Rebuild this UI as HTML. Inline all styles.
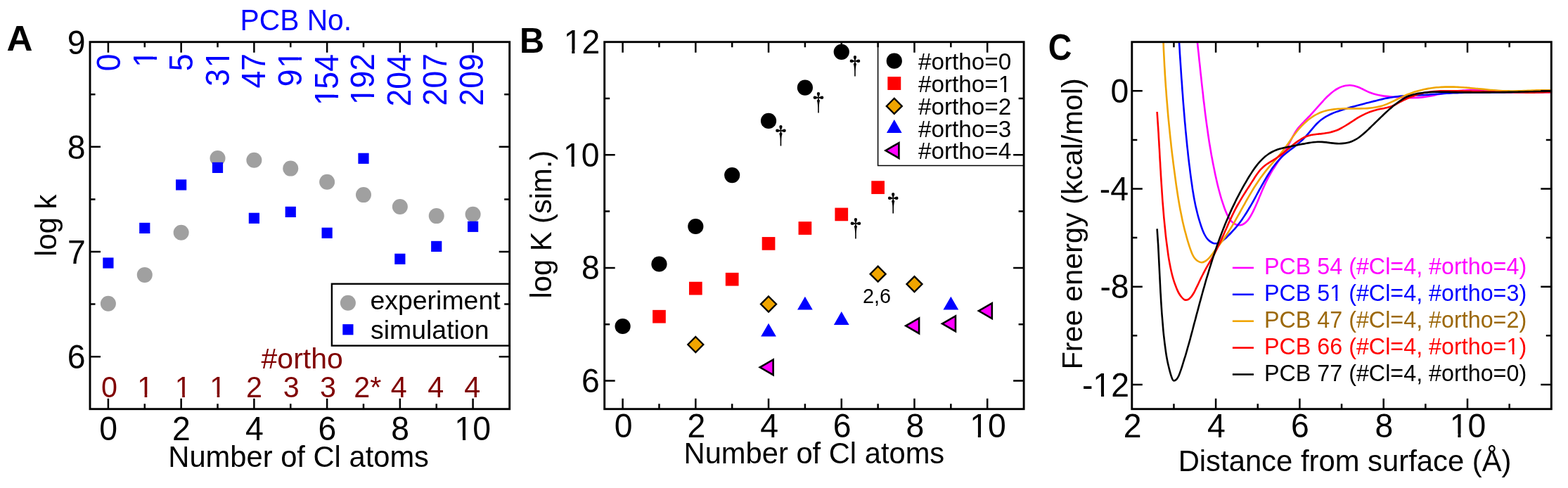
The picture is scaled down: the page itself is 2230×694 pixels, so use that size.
<!DOCTYPE html>
<html lang="en">
<head>
<meta charset="utf-8">
<title>PCB adsorption figure</title>
<style>
html,body{margin:0;padding:0;background:#fff}
body{width:2230px;height:694px;overflow:hidden}
svg{display:block;font-family:"Liberation Sans",sans-serif}
.dg{font-family:IPAGothic,"Noto Serif CJK SC","Liberation Serif",serif}
</style>
</head>
<body>
<svg width="2230" height="694" viewBox="0 0 2230 694">
<rect width="2230" height="694" fill="#fff"/>
<g id="panel-a">
<circle cx="153.9" cy="431.7" r="11" fill="#a0a0a0"/>
<circle cx="205.77" cy="390.9" r="11" fill="#a0a0a0"/>
<circle cx="257.64" cy="330.7" r="11" fill="#a0a0a0"/>
<circle cx="309.51" cy="225" r="11" fill="#a0a0a0"/>
<circle cx="361.38" cy="227.8" r="11" fill="#a0a0a0"/>
<circle cx="413.25" cy="239.6" r="11" fill="#a0a0a0"/>
<circle cx="465.12" cy="258.7" r="11" fill="#a0a0a0"/>
<circle cx="516.99" cy="277.1" r="11" fill="#a0a0a0"/>
<circle cx="568.86" cy="294" r="11" fill="#a0a0a0"/>
<circle cx="620.73" cy="307.1" r="11" fill="#a0a0a0"/>
<circle cx="672.6" cy="304.8" r="11" fill="#a0a0a0"/>
<rect x="146.3" y="366.4" width="15.2" height="15.2" fill="#0000ff"/>
<rect x="198.17" y="316.8" width="15.2" height="15.2" fill="#0000ff"/>
<rect x="250.04" y="255.3" width="15.2" height="15.2" fill="#0000ff"/>
<rect x="301.91" y="230.8" width="15.2" height="15.2" fill="#0000ff"/>
<rect x="353.78" y="302.7" width="15.2" height="15.2" fill="#0000ff"/>
<rect x="405.65" y="293.8" width="15.2" height="15.2" fill="#0000ff"/>
<rect x="457.52" y="323.7" width="15.2" height="15.2" fill="#0000ff"/>
<rect x="509.39" y="217.7" width="15.2" height="15.2" fill="#0000ff"/>
<rect x="561.26" y="360.7" width="15.2" height="15.2" fill="#0000ff"/>
<rect x="613.13" y="342.8" width="15.2" height="15.2" fill="#0000ff"/>
<rect x="665" y="314.7" width="15.2" height="15.2" fill="#0000ff"/>
<rect x="471.9" y="403.7" width="252.8" height="87.9" fill="none" stroke="#000" stroke-width="2.4"/>
<circle cx="494.9" cy="430.7" r="11" fill="#a0a0a0"/>
<rect x="487.3" y="461.1" width="15.2" height="15.2" fill="#0000ff"/>
<text transform="translate(526.41 439.9)" font-size="37.45">experiment</text>
<text transform="translate(526.97 481.9)" font-size="37.45">simulation</text>
<path d="M153.9 59.7v15M153.9 581.7v-15M257.64 59.7v15M257.64 581.7v-15M361.38 59.7v15M361.38 581.7v-15M465.12 59.7v15M465.12 581.7v-15M568.86 59.7v15M568.86 581.7v-15M672.6 59.7v15M672.6 581.7v-15M205.77 59.7v7.5M205.77 581.7v-7.5M309.51 59.7v7.5M309.51 581.7v-7.5M413.25 59.7v7.5M413.25 581.7v-7.5M516.99 59.7v7.5M516.99 581.7v-7.5M620.73 59.7v7.5M620.73 581.7v-7.5M128 507.13h15M724.7 507.13h-15M128 357.99h15M724.7 357.99h-15M128 208.84h15M724.7 208.84h-15M128 432.56h7.5M724.7 432.56h-7.5M128 283.41h7.5M724.7 283.41h-7.5M128 134.27h7.5M724.7 134.27h-7.5" stroke="#000" stroke-width="2.5" fill="none"/>
<rect x="128" y="59.7" width="596.7" height="522" fill="none" stroke="#000" stroke-width="2.9"/>
<text transform="translate(141.27 625.6) scale(0.96 1)" font-size="48.3">0</text>
<text transform="translate(245.07 625.6) scale(0.96 1)" font-size="48.3">2</text>
<text transform="translate(348.93 625.6) scale(0.96 1)" font-size="48.3">4</text>
<text transform="translate(452.38 625.6) scale(0.96 1)" font-size="48.3">6</text>
<text transform="translate(556.29 625.6) scale(0.96 1)" font-size="48.3">8</text>
<clipPath id="k1"><path clip-rule="evenodd" d="M-48.3 -57.96H102.03V24.15H-48.3ZM1.93 -5.07H12.11V1.45H1.93ZM16.38 -5.07H26.08V1.45H16.38Z"/></clipPath>
<text transform="translate(646.37 625.6) scale(0.96 1)" font-size="48.3" clip-path="url(#k1)">10</text>
<text transform="translate(95.74 524.03) scale(0.96 1)" font-size="48.3">6</text>
<text transform="translate(96.08 374.89) scale(0.96 1)" font-size="48.3">7</text>
<text transform="translate(95.74 225.74) scale(0.96 1)" font-size="48.3">8</text>
<text transform="translate(95.85 76.6) scale(0.96 1)" font-size="48.3">9</text>
<text transform="translate(239.3 663.9)" font-size="41.7">Number of Cl atoms</text>
<text transform="translate(80.1 364.82) rotate(-90)" font-size="41.8">log k</text>
<text transform="translate(9.52 72.1) scale(1.018 1)" font-size="50.3" font-weight="bold">A</text>
<text transform="translate(341.6 42.6) scale(1 1.05)" font-size="40.74" fill="#0000ff">PCB No.</text>
<text transform="translate(171.15 101.37) rotate(-90) scale(0.965 1.03)" font-size="46.2" fill="#0000ff">0</text>
<clipPath id="k2"><path clip-rule="evenodd" d="M-46.2 -55.44H71.9V23.1H-46.2ZM1.85 -4.85H11.59V1.39H1.85ZM15.67 -4.85H24.95V1.39H15.67Z"/></clipPath>
<text transform="translate(222.71 95.81) rotate(-90) scale(0.965 1.03)" font-size="46.2" clip-path="url(#k2)" fill="#0000ff">1</text>
<text transform="translate(274.27 101.26) rotate(-90) scale(0.965 1.03)" font-size="46.2" fill="#0000ff">5</text>
<clipPath id="k3"><path clip-rule="evenodd" d="M-46.2 -55.44H97.59V23.1H-46.2ZM29.39 -4.85H39.13V1.39H29.39ZM43.21 -4.85H52.49V1.39H43.21Z"/></clipPath>
<text transform="translate(325.83 122.77) rotate(-90) scale(0.965 1.03)" font-size="46.2" clip-path="url(#k3)" fill="#0000ff">3<tspan dx="1.85">1</tspan></text>
<text transform="translate(377.39 125.56) rotate(-90) scale(0.965 1.03)" font-size="46.2" fill="#0000ff">47</text>
<clipPath id="k4"><path clip-rule="evenodd" d="M-46.2 -55.44H97.59V23.1H-46.2ZM29.39 -4.85H39.13V1.39H29.39ZM43.21 -4.85H52.49V1.39H43.21Z"/></clipPath>
<text transform="translate(428.95 123.22) rotate(-90) scale(0.965 1.03)" font-size="46.2" clip-path="url(#k4)" fill="#0000ff">9<tspan dx="1.85">1</tspan></text>
<clipPath id="k5"><path clip-rule="evenodd" d="M-46.2 -55.44H123.29V23.1H-46.2ZM3.23 -4.85H12.97V1.39H3.23ZM17.06 -4.85H26.33V1.39H17.06Z"/></clipPath>
<text transform="translate(480.51 151.42) rotate(-90) scale(0.965 1.03)" font-size="46.2" clip-path="url(#k5)" fill="#0000ff"><tspan dx="1.39">1</tspan><tspan dx="-1.39">5</tspan>4</text>
<clipPath id="k6"><path clip-rule="evenodd" d="M-46.2 -55.44H123.29V23.1H-46.2ZM3.23 -4.85H12.97V1.39H3.23ZM17.06 -4.85H26.33V1.39H17.06Z"/></clipPath>
<text transform="translate(532.07 150.41) rotate(-90) scale(0.965 1.03)" font-size="46.2" clip-path="url(#k6)" fill="#0000ff"><tspan dx="1.39">1</tspan><tspan dx="-1.39">9</tspan>2</text>
<text transform="translate(583.63 151.42) rotate(-90) scale(0.965 1.03)" font-size="46.2" fill="#0000ff">204</text>
<text transform="translate(635.19 150.41) rotate(-90) scale(0.965 1.03)" font-size="46.2" fill="#0000ff">207</text>
<text transform="translate(686.75 150.64) rotate(-90) scale(0.965 1.03)" font-size="46.2" fill="#0000ff">209</text>
<text transform="translate(371.6 523.9)" font-size="40.95" fill="#800000">#ortho</text>
<text transform="translate(143.94 565.2) scale(0.965 1)" font-size="42.8" fill="#800000">0</text>
<clipPath id="k7"><path clip-rule="evenodd" d="M-42.8 -51.36H66.6V21.4H-42.8ZM1.71 -4.49H10.73V1.28H1.71ZM14.52 -4.49H23.11V1.28H14.52Z"/></clipPath>
<text transform="translate(195.25 565.2) scale(0.965 1)" font-size="42.8" clip-path="url(#k7)" fill="#800000">1</text>
<clipPath id="k8"><path clip-rule="evenodd" d="M-42.8 -51.36H66.6V21.4H-42.8ZM1.71 -4.49H10.73V1.28H1.71ZM14.52 -4.49H23.11V1.28H14.52Z"/></clipPath>
<text transform="translate(248.85 565.2) scale(0.965 1)" font-size="42.8" clip-path="url(#k8)" fill="#800000">1</text>
<clipPath id="k9"><path clip-rule="evenodd" d="M-42.8 -51.36H66.6V21.4H-42.8ZM1.71 -4.49H10.73V1.28H1.71ZM14.52 -4.49H23.11V1.28H14.52Z"/></clipPath>
<text transform="translate(298.3 565.2) scale(0.965 1)" font-size="42.8" clip-path="url(#k9)" fill="#800000">1</text>
<text transform="translate(350.09 565.2) scale(0.965 1)" font-size="42.8" fill="#800000">2</text>
<text transform="translate(402.74 565.2) scale(0.965 1)" font-size="42.8" fill="#800000">3</text>
<text transform="translate(455.04 565.2) scale(0.965 1)" font-size="42.8" fill="#800000">3</text>
<text transform="translate(503.33 565.2) scale(0.965 1)" font-size="42.8" fill="#800000">2*</text>
<text transform="translate(555.74 565.2) scale(0.965 1)" font-size="42.8" fill="#800000">4</text>
<text transform="translate(608.34 565.2) scale(0.965 1)" font-size="42.8" fill="#800000">4</text>
<text transform="translate(660.34 565.2) scale(0.965 1)" font-size="42.8" fill="#800000">4</text>
</g>
<g id="panel-b">
<circle cx="885.6" cy="464" r="11.1" fill="#000"/>
<circle cx="937.46" cy="375.5" r="11.1" fill="#000"/>
<circle cx="989.32" cy="322" r="11.1" fill="#000"/>
<circle cx="1041.18" cy="249.1" r="11.1" fill="#000"/>
<circle cx="1093.04" cy="171.9" r="11.1" fill="#000"/>
<circle cx="1144.9" cy="124.6" r="11.1" fill="#000"/>
<circle cx="1196.76" cy="73.8" r="11.1" fill="#000"/>
<rect x="928.11" y="440.85" width="18.7" height="18.7" fill="#ff0000"/>
<rect x="979.97" y="400.75" width="18.7" height="18.7" fill="#ff0000"/>
<rect x="1031.83" y="387.85" width="18.7" height="18.7" fill="#ff0000"/>
<rect x="1083.69" y="337.05" width="18.7" height="18.7" fill="#ff0000"/>
<rect x="1135.55" y="315.15" width="18.7" height="18.7" fill="#ff0000"/>
<rect x="1187.41" y="295.55" width="18.7" height="18.7" fill="#ff0000"/>
<rect x="1239.27" y="257.25" width="18.7" height="18.7" fill="#ff0000"/>
<path d="M989.32 479L1000.32 490L989.32 501L978.32 490Z" fill="#f0a500" stroke="#000" stroke-width="2.3"/>
<path d="M1093.04 421.5L1104.04 432.5L1093.04 443.5L1082.04 432.5Z" fill="#f0a500" stroke="#000" stroke-width="2.3"/>
<path d="M1248.62 378.66L1259.62 389.66L1248.62 400.66L1237.62 389.66Z" fill="#f0a500" stroke="#000" stroke-width="2.3"/>
<path d="M1300.48 393.1L1311.48 404.1L1300.48 415.1L1289.48 404.1Z" fill="#f0a500" stroke="#000" stroke-width="2.3"/>
<path d="M1093.04 459.7L1103.91 478.52L1082.17 478.52Z" fill="#0000ff"/>
<path d="M1144.9 421.8L1155.77 440.62L1134.03 440.62Z" fill="#0000ff"/>
<path d="M1196.76 443.1L1207.63 461.93L1185.89 461.93Z" fill="#0000ff"/>
<path d="M1352.34 421.8L1363.21 440.62L1341.47 440.62Z" fill="#0000ff"/>
<path d="M1080.74 522.3L1099.64 511.39L1099.64 533.21Z" fill="#ff00ff" stroke="#000" stroke-width="2.6" stroke-miterlimit="10"/>
<path d="M1288.18 463.3L1307.08 452.39L1307.08 474.21Z" fill="#ff00ff" stroke="#000" stroke-width="2.6" stroke-miterlimit="10"/>
<path d="M1340.04 460.3L1358.94 449.39L1358.94 471.21Z" fill="#ff00ff" stroke="#000" stroke-width="2.6" stroke-miterlimit="10"/>
<path d="M1391.9 442.1L1410.8 431.19L1410.8 453.01Z" fill="#ff00ff" stroke="#000" stroke-width="2.6" stroke-miterlimit="10"/>
<text class="dg" transform="translate(1110.5 205.2) scale(0.95 1)" font-size="33.6" text-anchor="middle">†</text>
<text class="dg" transform="translate(1163.84 158.16) scale(0.95 1)" font-size="33.6" text-anchor="middle">†</text>
<text class="dg" transform="translate(1216.06 105.9) scale(0.95 1)" font-size="33.6" text-anchor="middle">†</text>
<text class="dg" transform="translate(1216.85 337) scale(0.95 1)" font-size="33.6" text-anchor="middle">†</text>
<text class="dg" transform="translate(1270.1 301) scale(0.95 1)" font-size="33.6" text-anchor="middle">†</text>
<text transform="translate(1227.06 430.8)" font-size="28.8">2,6</text>
<path d="M1248.6 59.7V235.4H1456.1" fill="none" stroke="#000" stroke-width="1.5"/>
<circle cx="1271.8" cy="86.7" r="11.1" fill="#000"/>
<rect x="1262.35" y="109.1" width="18.9" height="18.9" fill="#ff0000"/>
<path d="M1271.8 139.9L1282.8 150.9L1271.8 161.9L1260.8 150.9Z" fill="#f0a500" stroke="#000" stroke-width="2.3"/>
<path d="M1271.8 170.05L1282.67 188.88L1260.93 188.88Z" fill="#0000ff"/>
<path d="M1259.5 214.05L1278.4 203.14L1278.4 224.96Z" fill="#ff00ff" stroke="#000" stroke-width="2.6" stroke-miterlimit="10"/>
<text transform="translate(1305.93 99.2)" font-size="33.3">#ortho=0</text>
<clipPath id="k10"><path clip-rule="evenodd" d="M-33.3 -39.96H165.69V16.65H-33.3ZM115.2 -3.5H122.22V1H115.2ZM125.17 -3.5H131.85V1H125.17Z"/></clipPath>
<text transform="translate(1305.93 131)" font-size="33.3" clip-path="url(#k10)">#ortho=1</text>
<text transform="translate(1305.93 162.8)" font-size="33.3">#ortho=2</text>
<text transform="translate(1305.93 194.6)" font-size="33.3">#ortho=3</text>
<text transform="translate(1305.93 226.4)" font-size="33.3">#ortho=4</text>
<path d="M885.6 59.7v15M885.6 581.7v-15M989.32 59.7v15M989.32 581.7v-15M1093.04 59.7v15M1093.04 581.7v-15M1196.76 59.7v15M1196.76 581.7v-15M1300.48 59.7v15M1300.48 581.7v-15M1404.2 59.7v15M1404.2 581.7v-15M937.46 59.7v7.5M937.46 581.7v-7.5M1041.18 59.7v7.5M1041.18 581.7v-7.5M1144.9 59.7v7.5M1144.9 581.7v-7.5M1248.62 59.7v7.5M1248.62 581.7v-7.5M1352.34 59.7v7.5M1352.34 581.7v-7.5M859.7 541.55h15M1456.1 541.55h-15M859.7 380.93h15M1456.1 380.93h-15M859.7 220.32h15M1456.1 220.32h-15M859.7 461.24h7.5M1456.1 461.24h-7.5M859.7 300.62h7.5M1456.1 300.62h-7.5M859.7 140.01h7.5M1456.1 140.01h-7.5" stroke="#000" stroke-width="2.5" fill="none"/>
<rect x="859.7" y="59.7" width="596.4" height="522" fill="none" stroke="#000" stroke-width="2.9"/>
<text transform="translate(873.67 621.9) scale(0.96 1)" font-size="48.3">0</text>
<text transform="translate(977.45 621.9) scale(0.96 1)" font-size="48.3">2</text>
<text transform="translate(1081.29 621.9) scale(0.96 1)" font-size="48.3">4</text>
<text transform="translate(1184.72 621.9) scale(0.96 1)" font-size="48.3">6</text>
<text transform="translate(1288.61 621.9) scale(0.96 1)" font-size="48.3">8</text>
<clipPath id="k11"><path clip-rule="evenodd" d="M-48.3 -57.96H102.03V24.15H-48.3ZM1.93 -5.07H12.11V1.45H1.93ZM16.38 -5.07H26.08V1.45H16.38Z"/></clipPath>
<text transform="translate(1379.2 621.9) scale(0.96 1)" font-size="48.3" clip-path="url(#k11)">10</text>
<text transform="translate(827.04 557.75) scale(0.96 1)" font-size="48.3">6</text>
<text transform="translate(827.04 397.13) scale(0.96 1)" font-size="48.3">8</text>
<clipPath id="k12"><path clip-rule="evenodd" d="M-48.3 -57.96H102.03V24.15H-48.3ZM1.93 -5.07H12.11V1.45H1.93ZM16.38 -5.07H26.08V1.45H16.38Z"/></clipPath>
<text transform="translate(801.07 236.52) scale(0.96 1)" font-size="48.3" clip-path="url(#k12)">10</text>
<clipPath id="k13"><path clip-rule="evenodd" d="M-48.3 -57.96H102.03V24.15H-48.3ZM1.93 -5.07H12.11V1.45H1.93ZM16.38 -5.07H26.08V1.45H16.38Z"/></clipPath>
<text transform="translate(801.65 75.9) scale(0.96 1)" font-size="48.3" clip-path="url(#k13)">12</text>
<text transform="translate(972.55 659.3)" font-size="41.7">Number of Cl atoms</text>
<text transform="translate(784.1 424.51) rotate(-90)" font-size="41.68">log K (sim.)</text>
<text transform="translate(739.11 75.4) scale(0.968 1)" font-size="50.3" font-weight="bold">B</text>
</g>
<g id="panel-c">
<clipPath id="cc"><rect x="1609.8" y="59.7" width="596.5" height="522"/></clipPath>
<g clip-path="url(#cc)" fill="none" stroke-width="2.6" stroke-linejoin="round">
<path d="M1701.2 45C1701.32 45.98 1701.68 48.93 1701.9 50.9C1702.12 52.87 1702.28 54.83 1702.5 56.8C1702.72 58.77 1702.98 60.72 1703.2 62.7C1703.42 64.68 1703.58 66.72 1703.8 68.7C1704.02 70.68 1704.28 72.62 1704.5 74.6C1704.72 76.58 1704.9 78.6 1705.1 80.6C1705.3 82.6 1705.48 84.6 1705.7 86.6C1705.92 88.6 1706.18 90.6 1706.4 92.6C1706.62 94.6 1706.8 96.6 1707 98.6C1707.2 100.6 1707.38 102.58 1707.6 104.6C1707.82 106.62 1708.08 108.68 1708.3 110.7C1708.52 112.72 1708.68 114.68 1708.9 116.7C1709.12 118.72 1709.37 120.77 1709.6 122.8C1709.83 124.83 1710.07 126.88 1710.3 128.9C1710.53 130.92 1710.78 132.88 1711 134.9C1711.22 136.92 1711.37 138.97 1711.6 141C1711.83 143.03 1712.15 145.08 1712.4 147.1C1712.65 149.12 1712.87 151.08 1713.1 153.1C1713.33 155.12 1713.55 157.17 1713.8 159.2C1714.05 161.23 1714.33 163.28 1714.6 165.3C1714.87 167.32 1715.13 169.28 1715.4 171.3C1715.67 173.32 1715.92 175.38 1716.2 177.4C1716.48 179.42 1716.82 181.4 1717.1 183.4C1717.38 185.4 1717.62 187.38 1717.9 189.4C1718.18 191.42 1718.5 193.48 1718.8 195.5C1719.1 197.52 1719.38 199.5 1719.7 201.5C1720.02 203.5 1720.37 205.52 1720.7 207.5C1721.03 209.48 1721.37 211.42 1721.7 213.4C1722.03 215.38 1722.35 217.42 1722.7 219.4C1723.05 221.38 1723.43 223.32 1723.8 225.3C1724.17 227.28 1724.52 229.32 1724.9 231.3C1725.28 233.28 1725.7 235.25 1726.1 237.2C1726.5 239.15 1726.9 241.05 1727.3 243C1727.7 244.95 1728.08 246.95 1728.5 248.9C1728.92 250.85 1729.37 252.77 1729.8 254.7C1730.23 256.63 1730.65 258.57 1731.1 260.5C1731.55 262.43 1732.02 264.38 1732.5 266.3C1732.98 268.22 1733.48 270.08 1734 272C1734.52 273.92 1735.05 275.87 1735.6 277.8C1736.15 279.73 1736.7 281.68 1737.3 283.6C1737.9 285.52 1738.55 287.37 1739.2 289.3C1739.85 291.23 1740.5 293.25 1741.2 295.2C1741.9 297.15 1742.6 299.08 1743.4 301C1744.2 302.92 1745.05 304.88 1746 306.7C1746.95 308.52 1747.9 310.28 1749.1 311.9C1750.3 313.52 1751.65 315.13 1753.2 316.4C1754.75 317.67 1756.57 318.87 1758.4 319.5C1760.23 320.13 1762.32 320.47 1764.2 320.2C1766.08 319.93 1768.02 318.98 1769.7 317.9C1771.38 316.82 1772.93 315.27 1774.3 313.7C1775.67 312.13 1776.8 310.25 1777.9 308.5C1779 306.75 1779.97 304.97 1780.9 303.2C1781.83 301.43 1782.65 299.68 1783.5 297.9C1784.35 296.12 1785.18 294.32 1786 292.5C1786.82 290.68 1787.62 288.85 1788.4 287C1789.18 285.15 1789.92 283.27 1790.7 281.4C1791.48 279.53 1792.32 277.67 1793.1 275.8C1793.88 273.93 1794.6 272.05 1795.4 270.2C1796.2 268.35 1797.07 266.53 1797.9 264.7C1798.73 262.87 1799.53 261.02 1800.4 259.2C1801.27 257.38 1802.17 255.58 1803.1 253.8C1804.03 252.02 1805.02 250.25 1806 248.5C1806.98 246.75 1807.95 245.02 1809 243.3C1810.05 241.58 1811.2 239.9 1812.3 238.2C1813.4 236.5 1814.5 234.78 1815.6 233.1C1816.7 231.42 1817.78 229.78 1818.9 228.1C1820.02 226.42 1821.2 224.7 1822.3 223C1823.4 221.3 1824.43 219.6 1825.5 217.9C1826.57 216.2 1827.67 214.53 1828.7 212.8C1829.73 211.07 1830.73 209.28 1831.7 207.5C1832.67 205.72 1833.57 203.9 1834.5 202.1C1835.43 200.3 1836.35 198.48 1837.3 196.7C1838.25 194.92 1839.2 193.13 1840.2 191.4C1841.2 189.67 1842.18 187.97 1843.3 186.3C1844.42 184.63 1845.63 182.97 1846.9 181.4C1848.17 179.83 1849.53 178.38 1850.9 176.9C1852.27 175.42 1853.68 173.97 1855.1 172.5C1856.52 171.03 1857.98 169.55 1859.4 168.1C1860.82 166.65 1862.23 165.27 1863.6 163.8C1864.97 162.33 1866.27 160.78 1867.6 159.3C1868.93 157.82 1870.27 156.38 1871.6 154.9C1872.93 153.42 1874.25 151.9 1875.6 150.4C1876.95 148.9 1878.35 147.4 1879.7 145.9C1881.05 144.4 1882.32 142.88 1883.7 141.4C1885.08 139.92 1886.53 138.42 1888 137C1889.47 135.58 1890.97 134.2 1892.5 132.9C1894.03 131.6 1895.55 130.35 1897.2 129.2C1898.85 128.05 1900.62 126.97 1902.4 126C1904.18 125.03 1906 124.1 1907.9 123.4C1909.8 122.7 1911.82 122.17 1913.8 121.8C1915.78 121.43 1917.83 121.17 1919.8 121.2C1921.77 121.23 1923.68 121.57 1925.6 122C1927.52 122.43 1929.42 123.08 1931.3 123.8C1933.18 124.52 1935.05 125.43 1936.9 126.3C1938.75 127.17 1940.55 128.13 1942.4 129C1944.25 129.87 1946.1 130.75 1948 131.5C1949.9 132.25 1951.87 132.92 1953.8 133.5C1955.73 134.08 1957.65 134.57 1959.6 135C1961.55 135.43 1963.53 135.78 1965.5 136.1C1967.47 136.42 1969.42 136.67 1971.4 136.9C1973.38 137.13 1975.38 137.32 1977.4 137.5C1979.42 137.68 1981.48 137.85 1983.5 138C1985.52 138.15 1987.48 138.27 1989.5 138.4C1991.52 138.53 1993.57 138.7 1995.6 138.8C1997.63 138.9 1999.68 138.95 2001.7 139C2003.72 139.05 2005.68 139.1 2007.7 139.1C2009.72 139.1 2011.78 139.08 2013.8 139C2015.82 138.92 2017.8 138.78 2019.8 138.6C2021.8 138.42 2023.82 138.17 2025.8 137.9C2027.78 137.63 2029.72 137.33 2031.7 137C2033.68 136.67 2035.72 136.3 2037.7 135.9C2039.68 135.5 2041.63 135.02 2043.6 134.6C2045.57 134.18 2047.52 133.82 2049.5 133.4C2051.48 132.98 2053.52 132.5 2055.5 132.1C2057.48 131.7 2059.42 131.33 2061.4 131C2063.38 130.67 2065.4 130.38 2067.4 130.1C2069.4 129.82 2071.4 129.53 2073.4 129.3C2075.4 129.07 2077.4 128.88 2079.4 128.7C2081.4 128.52 2083.38 128.33 2085.4 128.2C2087.42 128.07 2089.48 127.97 2091.5 127.9C2093.52 127.83 2095.5 127.82 2097.5 127.8C2099.5 127.78 2101.48 127.77 2103.5 127.8C2105.52 127.83 2107.58 127.93 2109.6 128C2111.62 128.07 2113.58 128.1 2115.6 128.2C2117.62 128.3 2119.68 128.47 2121.7 128.6C2123.72 128.73 2125.68 128.87 2127.7 129C2129.72 129.13 2131.78 129.27 2133.8 129.4C2135.82 129.53 2137.8 129.68 2139.8 129.8C2141.8 129.92 2143.78 130 2145.8 130.1C2147.82 130.2 2149.88 130.32 2151.9 130.4C2153.92 130.48 2155.88 130.53 2157.9 130.6C2159.92 130.67 2161.98 130.75 2164 130.8C2166.02 130.85 2167.98 130.87 2170 130.9C2172.02 130.93 2174.08 130.98 2176.1 131C2178.12 131.02 2180.1 130.98 2182.1 131C2184.1 131.02 2186.08 131.08 2188.1 131.1C2190.12 131.12 2192.18 131.1 2194.2 131.1C2196.22 131.1 2198.18 131.08 2200.2 131.1C2202.22 131.12 2205.28 131.18 2206.3 131.2" stroke="#ff00ff"/>
<path d="M1676 45C1676.07 46 1676.27 49 1676.4 51C1676.53 53 1676.67 55 1676.8 57C1676.93 59 1677.07 61 1677.2 63C1677.33 65 1677.48 67 1677.6 69C1677.72 71 1677.78 72.98 1677.9 75C1678.02 77.02 1678.17 79.08 1678.3 81.1C1678.43 83.12 1678.57 85.08 1678.7 87.1C1678.83 89.12 1678.97 91.18 1679.1 93.2C1679.23 95.22 1679.37 97.18 1679.5 99.2C1679.63 101.22 1679.77 103.27 1679.9 105.3C1680.03 107.33 1680.15 109.37 1680.3 111.4C1680.45 113.43 1680.65 115.47 1680.8 117.5C1680.95 119.53 1681.07 121.58 1681.2 123.6C1681.33 125.62 1681.45 127.58 1681.6 129.6C1681.75 131.62 1681.95 133.67 1682.1 135.7C1682.25 137.73 1682.35 139.77 1682.5 141.8C1682.65 143.83 1682.83 145.87 1683 147.9C1683.17 149.93 1683.33 151.97 1683.5 154C1683.67 156.03 1683.83 158.07 1684 160.1C1684.17 162.13 1684.33 164.17 1684.5 166.2C1684.67 168.23 1684.82 170.27 1685 172.3C1685.18 174.33 1685.42 176.37 1685.6 178.4C1685.78 180.43 1685.92 182.47 1686.1 184.5C1686.28 186.53 1686.5 188.58 1686.7 190.6C1686.9 192.62 1687.1 194.58 1687.3 196.6C1687.5 198.62 1687.7 200.67 1687.9 202.7C1688.1 204.73 1688.28 206.78 1688.5 208.8C1688.72 210.82 1688.98 212.78 1689.2 214.8C1689.42 216.82 1689.58 218.88 1689.8 220.9C1690.02 222.92 1690.27 224.9 1690.5 226.9C1690.73 228.9 1690.95 230.9 1691.2 232.9C1691.45 234.9 1691.75 236.9 1692 238.9C1692.25 240.9 1692.45 242.9 1692.7 244.9C1692.95 246.9 1693.23 248.9 1693.5 250.9C1693.77 252.9 1694.02 254.9 1694.3 256.9C1694.58 258.9 1694.92 260.92 1695.2 262.9C1695.48 264.88 1695.7 266.83 1696 268.8C1696.3 270.77 1696.67 272.72 1697 274.7C1697.33 276.68 1697.65 278.72 1698 280.7C1698.35 282.68 1698.72 284.63 1699.1 286.6C1699.48 288.57 1699.87 290.53 1700.3 292.5C1700.73 294.47 1701.23 296.43 1701.7 298.4C1702.17 300.37 1702.6 302.33 1703.1 304.3C1703.6 306.27 1704.13 308.23 1704.7 310.2C1705.27 312.17 1705.88 314.13 1706.5 316.1C1707.12 318.07 1707.72 320.03 1708.4 322C1709.08 323.97 1709.82 325.98 1710.6 327.9C1711.38 329.82 1712.15 331.7 1713.1 333.5C1714.05 335.3 1715.08 337.13 1716.3 338.7C1717.52 340.27 1718.83 341.7 1720.4 342.9C1721.97 344.1 1723.83 345.38 1725.7 345.9C1727.57 346.42 1729.68 346.43 1731.6 346C1733.52 345.57 1735.45 344.37 1737.2 343.3C1738.95 342.23 1740.53 340.93 1742.1 339.6C1743.67 338.27 1745.13 336.73 1746.6 335.3C1748.07 333.87 1749.5 332.47 1750.9 331C1752.3 329.53 1753.65 328 1755 326.5C1756.35 325 1757.72 323.55 1759 322C1760.28 320.45 1761.5 318.8 1762.7 317.2C1763.9 315.6 1765.05 314.03 1766.2 312.4C1767.35 310.77 1768.48 309.08 1769.6 307.4C1770.72 305.72 1771.83 304.02 1772.9 302.3C1773.97 300.58 1774.97 298.83 1776 297.1C1777.03 295.37 1778.08 293.65 1779.1 291.9C1780.12 290.15 1781.12 288.37 1782.1 286.6C1783.08 284.83 1784.03 283.08 1785 281.3C1785.97 279.52 1786.93 277.7 1787.9 275.9C1788.87 274.1 1789.82 272.28 1790.8 270.5C1791.78 268.72 1792.8 266.98 1793.8 265.2C1794.8 263.42 1795.8 261.57 1796.8 259.8C1797.8 258.03 1798.77 256.35 1799.8 254.6C1800.83 252.85 1801.93 251.03 1803 249.3C1804.07 247.57 1805.1 245.9 1806.2 244.2C1807.3 242.5 1808.43 240.75 1809.6 239.1C1810.77 237.45 1811.97 235.88 1813.2 234.3C1814.43 232.72 1815.68 231.13 1817 229.6C1818.32 228.07 1819.7 226.55 1821.1 225.1C1822.5 223.65 1823.92 222.25 1825.4 220.9C1826.88 219.55 1828.43 218.27 1830 217C1831.57 215.73 1833.2 214.53 1834.8 213.3C1836.4 212.07 1838 210.83 1839.6 209.6C1841.2 208.37 1842.82 207.18 1844.4 205.9C1845.98 204.62 1847.57 203.27 1849.1 201.9C1850.63 200.53 1852.15 199.15 1853.6 197.7C1855.05 196.25 1856.43 194.72 1857.8 193.2C1859.17 191.68 1860.47 190.17 1861.8 188.6C1863.13 187.03 1864.47 185.37 1865.8 183.8C1867.13 182.23 1868.43 180.7 1869.8 179.2C1871.17 177.7 1872.55 176.2 1874 174.8C1875.45 173.4 1876.95 172.05 1878.5 170.8C1880.05 169.55 1881.63 168.38 1883.3 167.3C1884.97 166.22 1886.73 165.23 1888.5 164.3C1890.27 163.37 1892.05 162.52 1893.9 161.7C1895.75 160.88 1897.7 160.12 1899.6 159.4C1901.5 158.68 1903.37 158.03 1905.3 157.4C1907.23 156.77 1909.25 156.2 1911.2 155.6C1913.15 155 1915.07 154.38 1917 153.8C1918.93 153.22 1920.85 152.65 1922.8 152.1C1924.75 151.55 1926.75 151.02 1928.7 150.5C1930.65 149.98 1932.55 149.52 1934.5 149C1936.45 148.48 1938.45 147.92 1940.4 147.4C1942.35 146.88 1944.25 146.4 1946.2 145.9C1948.15 145.4 1950.13 144.9 1952.1 144.4C1954.07 143.9 1956.03 143.38 1958 142.9C1959.97 142.42 1961.92 141.97 1963.9 141.5C1965.88 141.03 1967.92 140.52 1969.9 140.1C1971.88 139.68 1973.82 139.35 1975.8 139C1977.78 138.65 1979.8 138.3 1981.8 138C1983.8 137.7 1985.78 137.43 1987.8 137.2C1989.82 136.97 1991.88 136.77 1993.9 136.6C1995.92 136.43 1997.88 136.32 1999.9 136.2C2001.92 136.08 2003.97 136 2006 135.9C2008.03 135.8 2010.07 135.68 2012.1 135.6C2014.13 135.52 2016.18 135.48 2018.2 135.4C2020.22 135.32 2022.18 135.2 2024.2 135.1C2026.22 135 2028.27 134.93 2030.3 134.8C2032.33 134.67 2034.38 134.45 2036.4 134.3C2038.42 134.15 2040.4 134.03 2042.4 133.9C2044.4 133.77 2046.38 133.65 2048.4 133.5C2050.42 133.35 2052.48 133.15 2054.5 133C2056.52 132.85 2058.48 132.72 2060.5 132.6C2062.52 132.48 2064.57 132.38 2066.6 132.3C2068.63 132.22 2070.68 132.17 2072.7 132.1C2074.72 132.03 2076.68 131.97 2078.7 131.9C2080.72 131.83 2082.77 131.75 2084.8 131.7C2086.83 131.65 2088.88 131.63 2090.9 131.6C2092.92 131.57 2094.88 131.53 2096.9 131.5C2098.92 131.47 2100.97 131.42 2103 131.4C2105.03 131.38 2107.07 131.4 2109.1 131.4C2111.13 131.4 2113.18 131.4 2115.2 131.4C2117.22 131.4 2119.18 131.4 2121.2 131.4C2123.22 131.4 2125.27 131.4 2127.3 131.4C2129.33 131.4 2131.37 131.38 2133.4 131.4C2135.43 131.42 2137.47 131.48 2139.5 131.5C2141.53 131.52 2143.57 131.5 2145.6 131.5C2147.63 131.5 2149.68 131.5 2151.7 131.5C2153.72 131.5 2155.68 131.5 2157.7 131.5C2159.72 131.5 2161.77 131.52 2163.8 131.5C2165.83 131.48 2167.87 131.43 2169.9 131.4C2171.93 131.37 2173.98 131.33 2176 131.3C2178.02 131.27 2179.98 131.23 2182 131.2C2184.02 131.17 2186.07 131.17 2188.1 131.1C2190.13 131.03 2192.18 130.88 2194.2 130.8C2196.22 130.72 2198.18 130.68 2200.2 130.6C2202.22 130.52 2205.28 130.35 2206.3 130.3" stroke="#0000ff"/>
<path d="M1654 45C1654.03 46.02 1654.13 49.08 1654.2 51.1C1654.27 53.12 1654.32 55.1 1654.4 57.1C1654.48 59.1 1654.62 61.08 1654.7 63.1C1654.78 65.12 1654.82 67.18 1654.9 69.2C1654.98 71.22 1655.1 73.18 1655.2 75.2C1655.3 77.22 1655.4 79.28 1655.5 81.3C1655.6 83.32 1655.7 85.3 1655.8 87.3C1655.9 89.3 1655.98 91.28 1656.1 93.3C1656.22 95.32 1656.38 97.38 1656.5 99.4C1656.62 101.42 1656.68 103.4 1656.8 105.4C1656.92 107.4 1657.07 109.38 1657.2 111.4C1657.33 113.42 1657.47 115.48 1657.6 117.5C1657.73 119.52 1657.85 121.5 1658 123.5C1658.15 125.5 1658.35 127.5 1658.5 129.5C1658.65 131.5 1658.75 133.5 1658.9 135.5C1659.05 137.5 1659.23 139.48 1659.4 141.5C1659.57 143.52 1659.73 145.58 1659.9 147.6C1660.07 149.62 1660.23 151.6 1660.4 153.6C1660.57 155.6 1660.73 157.6 1660.9 159.6C1661.07 161.6 1661.22 163.6 1661.4 165.6C1661.58 167.6 1661.8 169.6 1662 171.6C1662.2 173.6 1662.4 175.6 1662.6 177.6C1662.8 179.6 1663 181.6 1663.2 183.6C1663.4 185.6 1663.6 187.6 1663.8 189.6C1664 191.6 1664.18 193.6 1664.4 195.6C1664.62 197.6 1664.88 199.6 1665.1 201.6C1665.32 203.6 1665.48 205.6 1665.7 207.6C1665.92 209.6 1666.17 211.6 1666.4 213.6C1666.63 215.6 1666.85 217.6 1667.1 219.6C1667.35 221.6 1667.65 223.6 1667.9 225.6C1668.15 227.6 1668.35 229.6 1668.6 231.6C1668.85 233.6 1669.13 235.6 1669.4 237.6C1669.67 239.6 1669.93 241.6 1670.2 243.6C1670.47 245.6 1670.73 247.6 1671 249.6C1671.27 251.6 1671.53 253.6 1671.8 255.6C1672.07 257.6 1672.32 259.6 1672.6 261.6C1672.88 263.6 1673.2 265.62 1673.5 267.6C1673.8 269.58 1674.1 271.52 1674.4 273.5C1674.7 275.48 1674.98 277.5 1675.3 279.5C1675.62 281.5 1675.97 283.52 1676.3 285.5C1676.63 287.48 1676.95 289.42 1677.3 291.4C1677.65 293.38 1678.02 295.42 1678.4 297.4C1678.78 299.38 1679.2 301.33 1679.6 303.3C1680 305.27 1680.4 307.22 1680.8 309.2C1681.2 311.18 1681.57 313.23 1682 315.2C1682.43 317.17 1682.93 319.05 1683.4 321C1683.87 322.95 1684.3 324.95 1684.8 326.9C1685.3 328.85 1685.87 330.75 1686.4 332.7C1686.93 334.65 1687.45 336.65 1688 338.6C1688.55 340.55 1689.12 342.48 1689.7 344.4C1690.28 346.32 1690.87 348.18 1691.5 350.1C1692.13 352.02 1692.8 354 1693.5 355.9C1694.2 357.8 1694.83 359.7 1695.7 361.5C1696.57 363.3 1697.48 365.12 1698.7 366.7C1699.92 368.28 1701.33 369.9 1703 371C1704.67 372.1 1706.82 373.25 1708.7 373.3C1710.58 373.35 1712.57 372.28 1714.3 371.3C1716.03 370.32 1717.65 368.82 1719.1 367.4C1720.55 365.98 1721.73 364.38 1723 362.8C1724.27 361.22 1725.48 359.52 1726.7 357.9C1727.92 356.28 1729.07 354.68 1730.3 353.1C1731.53 351.52 1732.87 349.98 1734.1 348.4C1735.33 346.82 1736.52 345.22 1737.7 343.6C1738.88 341.98 1740.07 340.33 1741.2 338.7C1742.33 337.07 1743.4 335.47 1744.5 333.8C1745.6 332.13 1746.72 330.42 1747.8 328.7C1748.88 326.98 1749.95 325.22 1751 323.5C1752.05 321.78 1753.08 320.13 1754.1 318.4C1755.12 316.67 1756.1 314.87 1757.1 313.1C1758.1 311.33 1759.1 309.57 1760.1 307.8C1761.1 306.03 1762.12 304.27 1763.1 302.5C1764.08 300.73 1765.02 298.97 1766 297.2C1766.98 295.43 1768.02 293.67 1769 291.9C1769.98 290.13 1770.92 288.35 1771.9 286.6C1772.88 284.85 1773.88 283.15 1774.9 281.4C1775.92 279.65 1776.97 277.85 1778 276.1C1779.03 274.35 1780.07 272.62 1781.1 270.9C1782.13 269.18 1783.13 267.48 1784.2 265.8C1785.27 264.12 1786.4 262.47 1787.5 260.8C1788.6 259.13 1789.67 257.45 1790.8 255.8C1791.93 254.15 1793.12 252.52 1794.3 250.9C1795.48 249.28 1796.68 247.68 1797.9 246.1C1799.12 244.52 1800.33 242.97 1801.6 241.4C1802.87 239.83 1804.17 238.23 1805.5 236.7C1806.83 235.17 1808.25 233.72 1809.6 232.2C1810.95 230.68 1812.27 229.12 1813.6 227.6C1814.93 226.08 1816.28 224.63 1817.6 223.1C1818.92 221.57 1820.23 219.98 1821.5 218.4C1822.77 216.82 1824 215.2 1825.2 213.6C1826.4 212 1827.53 210.42 1828.7 208.8C1829.87 207.18 1831.05 205.53 1832.2 203.9C1833.35 202.27 1834.47 200.63 1835.6 199C1836.73 197.37 1837.83 195.73 1839 194.1C1840.17 192.47 1841.37 190.8 1842.6 189.2C1843.83 187.6 1845.08 186.05 1846.4 184.5C1847.72 182.95 1849.1 181.38 1850.5 179.9C1851.9 178.42 1853.33 177 1854.8 175.6C1856.27 174.2 1857.73 172.82 1859.3 171.5C1860.87 170.18 1862.55 168.88 1864.2 167.7C1865.85 166.52 1867.48 165.42 1869.2 164.4C1870.92 163.38 1872.7 162.45 1874.5 161.6C1876.3 160.75 1878.13 159.97 1880 159.3C1881.87 158.63 1883.78 158.1 1885.7 157.6C1887.62 157.1 1889.53 156.67 1891.5 156.3C1893.47 155.93 1895.5 155.65 1897.5 155.4C1899.5 155.15 1901.47 154.95 1903.5 154.8C1905.53 154.65 1907.65 154.57 1909.7 154.5C1911.75 154.43 1913.75 154.42 1915.8 154.4C1917.85 154.38 1919.95 154.4 1922 154.4C1924.05 154.4 1926.07 154.4 1928.1 154.4C1930.13 154.4 1932.17 154.43 1934.2 154.4C1936.23 154.37 1938.28 154.28 1940.3 154.2C1942.32 154.12 1944.32 154.05 1946.3 153.9C1948.28 153.75 1950.23 153.57 1952.2 153.3C1954.17 153.03 1956.17 152.68 1958.1 152.3C1960.03 151.92 1961.9 151.53 1963.8 151C1965.7 150.47 1967.63 149.78 1969.5 149.1C1971.37 148.42 1973.17 147.7 1975 146.9C1976.83 146.1 1978.67 145.17 1980.5 144.3C1982.33 143.43 1984.17 142.58 1986 141.7C1987.83 140.82 1989.67 139.88 1991.5 139C1993.33 138.12 1995.15 137.23 1997 136.4C1998.85 135.57 2000.72 134.75 2002.6 134C2004.48 133.25 2006.4 132.57 2008.3 131.9C2010.2 131.23 2012.08 130.58 2014 130C2015.92 129.42 2017.87 128.88 2019.8 128.4C2021.73 127.92 2023.65 127.52 2025.6 127.1C2027.55 126.68 2029.52 126.25 2031.5 125.9C2033.48 125.55 2035.52 125.27 2037.5 125C2039.48 124.73 2041.4 124.48 2043.4 124.3C2045.4 124.12 2047.48 124.02 2049.5 123.9C2051.52 123.78 2053.5 123.65 2055.5 123.6C2057.5 123.55 2059.48 123.6 2061.5 123.6C2063.52 123.6 2065.58 123.55 2067.6 123.6C2069.62 123.65 2071.58 123.8 2073.6 123.9C2075.62 124 2077.68 124.08 2079.7 124.2C2081.72 124.32 2083.7 124.43 2085.7 124.6C2087.7 124.77 2089.7 125.02 2091.7 125.2C2093.7 125.38 2095.7 125.52 2097.7 125.7C2099.7 125.88 2101.68 126.1 2103.7 126.3C2105.72 126.5 2107.78 126.7 2109.8 126.9C2111.82 127.1 2113.8 127.3 2115.8 127.5C2117.8 127.7 2119.8 127.92 2121.8 128.1C2123.8 128.28 2125.8 128.45 2127.8 128.6C2129.8 128.75 2131.8 128.88 2133.8 129C2135.8 129.12 2137.78 129.23 2139.8 129.3C2141.82 129.37 2143.88 129.37 2145.9 129.4C2147.92 129.43 2149.88 129.5 2151.9 129.5C2153.92 129.5 2155.98 129.45 2158 129.4C2160.02 129.35 2161.98 129.27 2164 129.2C2166.02 129.13 2168.08 129.08 2170.1 129C2172.12 128.92 2174.08 128.78 2176.1 128.7C2178.12 128.62 2180.18 128.57 2182.2 128.5C2184.22 128.43 2186.18 128.35 2188.2 128.3C2190.22 128.25 2192.28 128.22 2194.3 128.2C2196.32 128.18 2198.3 128.18 2200.3 128.2C2202.3 128.22 2205.3 128.28 2206.3 128.3" stroke="#f0a500"/>
<path d="M1645.6 159C1645.67 160 1645.87 162.98 1646 165C1646.13 167.02 1646.27 169.08 1646.4 171.1C1646.53 173.12 1646.67 175.08 1646.8 177.1C1646.93 179.12 1647.07 181.18 1647.2 183.2C1647.33 185.22 1647.48 187.18 1647.6 189.2C1647.72 191.22 1647.78 193.28 1647.9 195.3C1648.02 197.32 1648.18 199.28 1648.3 201.3C1648.42 203.32 1648.48 205.38 1648.6 207.4C1648.72 209.42 1648.88 211.38 1649 213.4C1649.12 215.42 1649.2 217.48 1649.3 219.5C1649.4 221.52 1649.48 223.48 1649.6 225.5C1649.72 227.52 1649.88 229.58 1650 231.6C1650.12 233.62 1650.18 235.6 1650.3 237.6C1650.42 239.6 1650.58 241.58 1650.7 243.6C1650.82 245.62 1650.88 247.68 1651 249.7C1651.12 251.72 1651.27 253.68 1651.4 255.7C1651.53 257.72 1651.67 259.78 1651.8 261.8C1651.93 263.82 1652.07 265.78 1652.2 267.8C1652.33 269.82 1652.47 271.88 1652.6 273.9C1652.73 275.92 1652.87 277.88 1653 279.9C1653.13 281.92 1653.25 283.98 1653.4 286C1653.55 288.02 1653.73 290 1653.9 292C1654.07 294 1654.23 295.98 1654.4 298C1654.57 300.02 1654.73 302.08 1654.9 304.1C1655.07 306.12 1655.22 308.1 1655.4 310.1C1655.58 312.1 1655.8 314.08 1656 316.1C1656.2 318.12 1656.4 320.18 1656.6 322.2C1656.8 324.22 1657 326.2 1657.2 328.2C1657.4 330.2 1657.58 332.2 1657.8 334.2C1658.02 336.2 1658.25 338.18 1658.5 340.2C1658.75 342.22 1659.03 344.28 1659.3 346.3C1659.57 348.32 1659.83 350.3 1660.1 352.3C1660.37 354.3 1660.63 356.3 1660.9 358.3C1661.17 360.3 1661.4 362.3 1661.7 364.3C1662 366.3 1662.35 368.32 1662.7 370.3C1663.05 372.28 1663.42 374.22 1663.8 376.2C1664.18 378.18 1664.58 380.23 1665 382.2C1665.42 384.17 1665.83 386.05 1666.3 388C1666.77 389.95 1667.27 391.97 1667.8 393.9C1668.33 395.83 1668.88 397.7 1669.5 399.6C1670.12 401.5 1670.8 403.42 1671.5 405.3C1672.2 407.18 1672.9 409.03 1673.7 410.9C1674.5 412.77 1675.27 414.67 1676.3 416.5C1677.33 418.33 1678.53 420.28 1679.9 421.9C1681.27 423.52 1682.88 425.52 1684.5 426.2C1686.12 426.88 1687.97 426.73 1689.6 426C1691.23 425.27 1692.92 423.38 1694.3 421.8C1695.68 420.22 1696.83 418.32 1697.9 416.5C1698.97 414.68 1699.78 412.75 1700.7 410.9C1701.62 409.05 1702.53 407.22 1703.4 405.4C1704.27 403.58 1705.05 401.8 1705.9 400C1706.75 398.2 1707.62 396.38 1708.5 394.6C1709.38 392.82 1710.3 391.05 1711.2 389.3C1712.1 387.55 1712.97 385.85 1713.9 384.1C1714.83 382.35 1715.8 380.55 1716.8 378.8C1717.8 377.05 1718.87 375.33 1719.9 373.6C1720.93 371.87 1721.98 370.15 1723 368.4C1724.02 366.65 1725.02 364.88 1726 363.1C1726.98 361.32 1727.97 359.5 1728.9 357.7C1729.83 355.9 1730.72 354.12 1731.6 352.3C1732.48 350.48 1733.33 348.63 1734.2 346.8C1735.07 344.97 1735.95 343.13 1736.8 341.3C1737.65 339.47 1738.48 337.65 1739.3 335.8C1740.12 333.95 1740.88 332.05 1741.7 330.2C1742.52 328.35 1743.38 326.55 1744.2 324.7C1745.02 322.85 1745.78 320.95 1746.6 319.1C1747.42 317.25 1748.25 315.43 1749.1 313.6C1749.95 311.77 1750.83 309.92 1751.7 308.1C1752.57 306.28 1753.42 304.5 1754.3 302.7C1755.18 300.9 1756.07 299.08 1757 297.3C1757.93 295.52 1758.92 293.75 1759.9 292C1760.88 290.25 1761.88 288.53 1762.9 286.8C1763.92 285.07 1764.95 283.33 1766 281.6C1767.05 279.87 1768.13 278.12 1769.2 276.4C1770.27 274.68 1771.32 273 1772.4 271.3C1773.48 269.6 1774.6 267.9 1775.7 266.2C1776.8 264.5 1777.9 262.8 1779 261.1C1780.1 259.4 1781.2 257.72 1782.3 256C1783.4 254.28 1784.47 252.5 1785.6 250.8C1786.73 249.1 1787.9 247.42 1789.1 245.8C1790.3 244.18 1791.47 242.58 1792.8 241.1C1794.13 239.62 1795.58 238.2 1797.1 236.9C1798.62 235.6 1800.25 234.45 1801.9 233.3C1803.55 232.15 1805.28 231.08 1807 230C1808.72 228.92 1810.5 227.88 1812.2 226.8C1813.9 225.72 1815.55 224.65 1817.2 223.5C1818.85 222.35 1820.5 221.12 1822.1 219.9C1823.7 218.68 1825.25 217.47 1826.8 216.2C1828.35 214.93 1829.85 213.58 1831.4 212.3C1832.95 211.02 1834.53 209.78 1836.1 208.5C1837.67 207.22 1839.2 205.87 1840.8 204.6C1842.4 203.33 1844.03 202.08 1845.7 200.9C1847.37 199.72 1849.07 198.53 1850.8 197.5C1852.53 196.47 1854.27 195.48 1856.1 194.7C1857.93 193.92 1859.87 193.33 1861.8 192.8C1863.73 192.27 1865.7 191.85 1867.7 191.5C1869.7 191.15 1871.78 190.93 1873.8 190.7C1875.82 190.47 1877.8 190.33 1879.8 190.1C1881.8 189.87 1883.8 189.62 1885.8 189.3C1887.8 188.98 1889.83 188.65 1891.8 188.2C1893.77 187.75 1895.7 187.22 1897.6 186.6C1899.5 185.98 1901.37 185.32 1903.2 184.5C1905.03 183.68 1906.82 182.7 1908.6 181.7C1910.38 180.7 1912.17 179.57 1913.9 178.5C1915.63 177.43 1917.3 176.38 1919 175.3C1920.7 174.22 1922.4 173.1 1924.1 172C1925.8 170.9 1927.48 169.75 1929.2 168.7C1930.92 167.65 1932.63 166.67 1934.4 165.7C1936.17 164.73 1937.98 163.78 1939.8 162.9C1941.62 162.02 1943.43 161.17 1945.3 160.4C1947.17 159.63 1949.08 158.95 1951 158.3C1952.92 157.65 1954.85 157.03 1956.8 156.5C1958.75 155.97 1960.72 155.53 1962.7 155.1C1964.68 154.67 1966.72 154.32 1968.7 153.9C1970.68 153.48 1972.67 153.13 1974.6 152.6C1976.53 152.07 1978.45 151.45 1980.3 150.7C1982.15 149.95 1983.92 149.02 1985.7 148.1C1987.48 147.18 1989.22 146.15 1991 145.2C1992.78 144.25 1994.58 143.3 1996.4 142.4C1998.22 141.5 2000.05 140.62 2001.9 139.8C2003.75 138.98 2005.62 138.23 2007.5 137.5C2009.38 136.77 2011.28 136.05 2013.2 135.4C2015.12 134.75 2017.05 134.15 2019 133.6C2020.95 133.05 2022.93 132.53 2024.9 132.1C2026.87 131.67 2028.82 131.32 2030.8 131C2032.78 130.68 2034.8 130.42 2036.8 130.2C2038.8 129.98 2040.8 129.83 2042.8 129.7C2044.8 129.57 2046.78 129.47 2048.8 129.4C2050.82 129.33 2052.88 129.33 2054.9 129.3C2056.92 129.27 2058.88 129.2 2060.9 129.2C2062.92 129.2 2064.97 129.28 2067 129.3C2069.03 129.32 2071.08 129.28 2073.1 129.3C2075.12 129.32 2077.08 129.37 2079.1 129.4C2081.12 129.43 2083.18 129.47 2085.2 129.5C2087.22 129.53 2089.18 129.55 2091.2 129.6C2093.22 129.65 2095.28 129.75 2097.3 129.8C2099.32 129.85 2101.28 129.85 2103.3 129.9C2105.32 129.95 2107.37 130.03 2109.4 130.1C2111.43 130.17 2113.48 130.23 2115.5 130.3C2117.52 130.37 2119.48 130.43 2121.5 130.5C2123.52 130.57 2125.58 130.63 2127.6 130.7C2129.62 130.77 2131.58 130.85 2133.6 130.9C2135.62 130.95 2137.68 130.95 2139.7 131C2141.72 131.05 2143.68 131.15 2145.7 131.2C2147.72 131.25 2149.78 131.27 2151.8 131.3C2153.82 131.33 2155.78 131.37 2157.8 131.4C2159.82 131.43 2161.88 131.47 2163.9 131.5C2165.92 131.53 2167.88 131.58 2169.9 131.6C2171.92 131.62 2173.97 131.6 2176 131.6C2178.03 131.6 2180.08 131.62 2182.1 131.6C2184.12 131.58 2186.08 131.53 2188.1 131.5C2190.12 131.47 2192.18 131.45 2194.2 131.4C2196.22 131.35 2198.18 131.27 2200.2 131.2C2202.22 131.13 2205.28 131.03 2206.3 131" stroke="#ff0000"/>
<path d="M1645.6 325.3C1645.67 326.3 1645.87 329.28 1646 331.3C1646.13 333.32 1646.27 335.38 1646.4 337.4C1646.53 339.42 1646.67 341.4 1646.8 343.4C1646.93 345.4 1647.08 347.38 1647.2 349.4C1647.32 351.42 1647.4 353.48 1647.5 355.5C1647.6 357.52 1647.7 359.5 1647.8 361.5C1647.9 363.5 1648 365.48 1648.1 367.5C1648.2 369.52 1648.3 371.58 1648.4 373.6C1648.5 375.62 1648.6 377.6 1648.7 379.6C1648.8 381.6 1648.9 383.58 1649 385.6C1649.1 387.62 1649.2 389.68 1649.3 391.7C1649.4 393.72 1649.5 395.7 1649.6 397.7C1649.7 399.7 1649.8 401.7 1649.9 403.7C1650 405.7 1650.1 407.68 1650.2 409.7C1650.3 411.72 1650.38 413.78 1650.5 415.8C1650.62 417.82 1650.78 419.8 1650.9 421.8C1651.02 423.8 1651.08 425.8 1651.2 427.8C1651.32 429.8 1651.47 431.78 1651.6 433.8C1651.73 435.82 1651.87 437.88 1652 439.9C1652.13 441.92 1652.25 443.9 1652.4 445.9C1652.55 447.9 1652.73 449.9 1652.9 451.9C1653.07 453.9 1653.23 455.88 1653.4 457.9C1653.57 459.92 1653.73 461.98 1653.9 464C1654.07 466.02 1654.22 468 1654.4 470C1654.58 472 1654.78 474 1655 476C1655.22 478 1655.47 479.98 1655.7 482C1655.93 484.02 1656.15 486.08 1656.4 488.1C1656.65 490.12 1656.93 492.1 1657.2 494.1C1657.47 496.1 1657.72 498.12 1658 500.1C1658.28 502.08 1658.57 504.03 1658.9 506C1659.23 507.97 1659.62 509.93 1660 511.9C1660.38 513.87 1660.77 515.85 1661.2 517.8C1661.63 519.75 1662.12 521.68 1662.6 523.6C1663.08 525.52 1663.55 527.35 1664.1 529.3C1664.65 531.25 1665.17 533.35 1665.9 535.3C1666.63 537.25 1667.32 540.27 1668.5 541C1669.68 541.73 1671.7 540.77 1673 539.7C1674.3 538.63 1675.38 536.4 1676.3 534.6C1677.22 532.8 1677.8 530.82 1678.5 528.9C1679.2 526.98 1679.87 525.03 1680.5 523.1C1681.13 521.17 1681.7 519.23 1682.3 517.3C1682.9 515.37 1683.5 513.42 1684.1 511.5C1684.7 509.58 1685.32 507.72 1685.9 505.8C1686.48 503.88 1687.05 501.93 1687.6 500C1688.15 498.07 1688.65 496.13 1689.2 494.2C1689.75 492.27 1690.35 490.33 1690.9 488.4C1691.45 486.47 1691.98 484.53 1692.5 482.6C1693.02 480.67 1693.48 478.73 1694 476.8C1694.52 474.87 1695.08 472.93 1695.6 471C1696.12 469.07 1696.6 467.13 1697.1 465.2C1697.6 463.27 1698.08 461.33 1698.6 459.4C1699.12 457.47 1699.68 455.55 1700.2 453.6C1700.72 451.65 1701.18 449.65 1701.7 447.7C1702.22 445.75 1702.78 443.83 1703.3 441.9C1703.82 439.97 1704.28 438.05 1704.8 436.1C1705.32 434.15 1705.87 432.15 1706.4 430.2C1706.93 428.25 1707.47 426.35 1708 424.4C1708.53 422.45 1709.07 420.45 1709.6 418.5C1710.13 416.55 1710.65 414.63 1711.2 412.7C1711.75 410.77 1712.35 408.85 1712.9 406.9C1713.45 404.95 1713.95 402.95 1714.5 401C1715.05 399.05 1715.62 397.13 1716.2 395.2C1716.78 393.27 1717.42 391.33 1718 389.4C1718.58 387.47 1719.12 385.53 1719.7 383.6C1720.28 381.67 1720.9 379.73 1721.5 377.8C1722.1 375.87 1722.68 373.93 1723.3 372C1723.92 370.07 1724.57 368.12 1725.2 366.2C1725.83 364.28 1726.47 362.4 1727.1 360.5C1727.73 358.6 1728.35 356.72 1729 354.8C1729.65 352.88 1730.33 350.9 1731 349C1731.67 347.1 1732.32 345.28 1733 343.4C1733.68 341.52 1734.4 339.58 1735.1 337.7C1735.8 335.82 1736.48 333.98 1737.2 332.1C1737.92 330.22 1738.67 328.27 1739.4 326.4C1740.13 324.53 1740.85 322.75 1741.6 320.9C1742.35 319.05 1743.12 317.15 1743.9 315.3C1744.68 313.45 1745.5 311.63 1746.3 309.8C1747.1 307.97 1747.9 306.12 1748.7 304.3C1749.5 302.48 1750.27 300.72 1751.1 298.9C1751.93 297.08 1752.83 295.2 1753.7 293.4C1754.57 291.6 1755.43 289.88 1756.3 288.1C1757.17 286.32 1758 284.5 1758.9 282.7C1759.8 280.9 1760.77 279.08 1761.7 277.3C1762.63 275.52 1763.55 273.77 1764.5 272C1765.45 270.23 1766.42 268.47 1767.4 266.7C1768.38 264.93 1769.38 263.17 1770.4 261.4C1771.42 259.63 1772.45 257.87 1773.5 256.1C1774.55 254.33 1775.62 252.55 1776.7 250.8C1777.78 249.05 1778.88 247.32 1780 245.6C1781.12 243.88 1782.23 242.17 1783.4 240.5C1784.57 238.83 1785.75 237.2 1787 235.6C1788.25 234 1789.57 232.4 1790.9 230.9C1792.23 229.4 1793.58 227.98 1795 226.6C1796.42 225.22 1797.88 223.87 1799.4 222.6C1800.92 221.33 1802.47 220.1 1804.1 219C1805.73 217.9 1807.43 216.92 1809.2 216C1810.97 215.08 1812.8 214.23 1814.7 213.5C1816.6 212.77 1818.6 212.18 1820.6 211.6C1822.6 211.02 1824.68 210.47 1826.7 210C1828.72 209.53 1830.7 209.2 1832.7 208.8C1834.7 208.4 1836.73 208 1838.7 207.6C1840.67 207.2 1842.57 206.8 1844.5 206.4C1846.43 206 1848.38 205.57 1850.3 205.2C1852.22 204.83 1854.05 204.55 1856 204.2C1857.95 203.85 1860 203.42 1862 203.1C1864 202.78 1865.98 202.52 1868 202.3C1870.02 202.08 1872.07 201.87 1874.1 201.8C1876.13 201.73 1878.18 201.8 1880.2 201.9C1882.22 202 1884.22 202.18 1886.2 202.4C1888.18 202.62 1890.12 202.95 1892.1 203.2C1894.08 203.45 1896.08 203.73 1898.1 203.9C1900.12 204.07 1902.17 204.2 1904.2 204.2C1906.23 204.2 1908.28 204.1 1910.3 203.9C1912.32 203.7 1914.33 203.43 1916.3 203C1918.27 202.57 1920.23 202.02 1922.1 201.3C1923.97 200.58 1925.75 199.67 1927.5 198.7C1929.25 197.73 1930.95 196.65 1932.6 195.5C1934.25 194.35 1935.83 193.08 1937.4 191.8C1938.97 190.52 1940.48 189.17 1942 187.8C1943.52 186.43 1945.03 185 1946.5 183.6C1947.97 182.2 1949.37 180.78 1950.8 179.4C1952.23 178.02 1953.67 176.68 1955.1 175.3C1956.53 173.92 1957.97 172.5 1959.4 171.1C1960.83 169.7 1962.27 168.3 1963.7 166.9C1965.13 165.5 1966.53 164.08 1968 162.7C1969.47 161.32 1971 159.95 1972.5 158.6C1974 157.25 1975.48 155.93 1977 154.6C1978.52 153.27 1980.03 151.88 1981.6 150.6C1983.17 149.32 1984.78 148.12 1986.4 146.9C1988.02 145.68 1989.63 144.43 1991.3 143.3C1992.97 142.17 1994.67 141.08 1996.4 140.1C1998.13 139.12 1999.88 138.22 2001.7 137.4C2003.52 136.58 2005.4 135.82 2007.3 135.2C2009.2 134.58 2011.13 134.13 2013.1 133.7C2015.07 133.27 2017.08 132.92 2019.1 132.6C2021.12 132.28 2023.17 132.02 2025.2 131.8C2027.23 131.58 2029.28 131.45 2031.3 131.3C2033.32 131.15 2035.28 130.98 2037.3 130.9C2039.32 130.82 2041.38 130.83 2043.4 130.8C2045.42 130.77 2047.4 130.7 2049.4 130.7C2051.4 130.7 2053.4 130.77 2055.4 130.8C2057.4 130.83 2059.4 130.85 2061.4 130.9C2063.4 130.95 2065.38 131.05 2067.4 131.1C2069.42 131.15 2071.48 131.17 2073.5 131.2C2075.52 131.23 2077.5 131.27 2079.5 131.3C2081.5 131.33 2083.5 131.38 2085.5 131.4C2087.5 131.42 2089.48 131.38 2091.5 131.4C2093.52 131.42 2095.58 131.48 2097.6 131.5C2099.62 131.52 2101.6 131.52 2103.6 131.5C2105.6 131.48 2107.58 131.42 2109.6 131.4C2111.62 131.38 2113.68 131.42 2115.7 131.4C2117.72 131.38 2119.68 131.32 2121.7 131.3C2123.72 131.28 2125.78 131.32 2127.8 131.3C2129.82 131.28 2131.78 131.23 2133.8 131.2C2135.82 131.17 2137.88 131.15 2139.9 131.1C2141.92 131.05 2143.88 130.95 2145.9 130.9C2147.92 130.85 2149.98 130.83 2152 130.8C2154.02 130.77 2156 130.75 2158 130.7C2160 130.65 2161.98 130.55 2164 130.5C2166.02 130.45 2168.08 130.43 2170.1 130.4C2172.12 130.37 2174.08 130.35 2176.1 130.3C2178.12 130.25 2180.18 130.15 2182.2 130.1C2184.22 130.05 2186.2 130.03 2188.2 130C2190.2 129.97 2192.18 129.93 2194.2 129.9C2196.22 129.87 2198.28 129.83 2200.3 129.8C2202.32 129.77 2205.3 129.72 2206.3 129.7" stroke="#000000"/>
</g>
<path d="M1752.9 380.9H1783" stroke="#ff00ff" stroke-width="2.6"/>
<text transform="translate(1797.94 390) scale(1 1.045)" font-size="32.3" fill="#ff00ff">PCB 54 (#Cl=4, #ortho=4)</text>
<path d="M1752.9 418.8H1783" stroke="#0000ff" stroke-width="2.6"/>
<clipPath id="k14"><path clip-rule="evenodd" d="M-32.3 -38.76H405.76V16.15H-32.3ZM94.65 -3.39H101.45V0.97H94.65ZM104.31 -3.39H110.8V0.97H104.31Z"/></clipPath>
<text transform="translate(1797.94 427.9) scale(1 1.045)" font-size="32.3" clip-path="url(#k14)" fill="#0000ff">PCB 51 (#Cl=4, #ortho=3)</text>
<path d="M1752.9 456.7H1783" stroke="#f0a500" stroke-width="2.6"/>
<text transform="translate(1797.94 465.8) scale(1 1.045)" font-size="32.3" fill="#9c680a">PCB 47 (#Cl=4, #ortho=2)</text>
<path d="M1752.9 494.6H1783" stroke="#ff0000" stroke-width="2.6"/>
<clipPath id="k15"><path clip-rule="evenodd" d="M-32.3 -38.76H405.76V16.15H-32.3ZM346.04 -3.39H352.84V0.97H346.04ZM355.7 -3.39H362.19V0.97H355.7Z"/></clipPath>
<text transform="translate(1797.94 503.7) scale(1 1.045)" font-size="32.3" clip-path="url(#k15)" fill="#ff0000">PCB 66 (#Cl=4, #ortho=1)</text>
<path d="M1752.9 532.5H1783" stroke="#000000" stroke-width="2.6"/>
<text transform="translate(1797.94 541.6) scale(1 1.045)" font-size="32.3">PCB 77 (#Cl=4, #ortho=0)</text>
<path d="M1729.1 59.7v15M1729.1 581.7v-15M1848.4 59.7v15M1848.4 581.7v-15M1967.7 59.7v15M1967.7 581.7v-15M2087 59.7v15M2087 581.7v-15M1669.45 59.7v7.5M1669.45 581.7v-7.5M1788.75 59.7v7.5M1788.75 581.7v-7.5M1908.05 59.7v7.5M1908.05 581.7v-7.5M2027.35 59.7v7.5M2027.35 581.7v-7.5M2146.65 59.7v7.5M2146.65 581.7v-7.5M1609.8 129.3h15M2206.3 129.3h-15M1609.8 268.5h15M2206.3 268.5h-15M1609.8 407.7h15M2206.3 407.7h-15M1609.8 546.9h15M2206.3 546.9h-15M1609.8 198.9h7.5M2206.3 198.9h-7.5M1609.8 338.1h7.5M2206.3 338.1h-7.5M1609.8 477.3h7.5M2206.3 477.3h-7.5" stroke="#000" stroke-width="2.5" fill="none"/>
<rect x="1609.8" y="59.7" width="596.5" height="522" fill="none" stroke="#000" stroke-width="2.9"/>
<text transform="translate(1597.63 621.9) scale(0.96 1)" font-size="48.3">2</text>
<text transform="translate(1717.05 621.9) scale(0.96 1)" font-size="48.3">4</text>
<text transform="translate(1836.06 621.9) scale(0.96 1)" font-size="48.3">6</text>
<text transform="translate(1955.53 621.9) scale(0.96 1)" font-size="48.3">8</text>
<clipPath id="k16"><path clip-rule="evenodd" d="M-48.3 -57.96H102.03V24.15H-48.3ZM1.93 -5.07H12.11V1.45H1.93ZM16.38 -5.07H26.08V1.45H16.38Z"/></clipPath>
<text transform="translate(2061.8 621.9) scale(0.96 1)" font-size="48.3" clip-path="url(#k16)">10</text>
<text transform="translate(1579.6 146) scale(0.96 1)" font-size="48.3">0</text>
<text transform="translate(1563.72 285.2) scale(0.96 1)" font-size="48.3">-4</text>
<text transform="translate(1564.42 424.4) scale(0.96 1)" font-size="48.3">-8</text>
<clipPath id="k17"><path clip-rule="evenodd" d="M-48.3 -57.96H118.11V24.15H-48.3ZM18.02 -5.07H28.2V1.45H18.02ZM32.47 -5.07H42.17V1.45H32.47Z"/></clipPath>
<text transform="translate(1538.92 563.6) scale(0.96 1)" font-size="48.3" clip-path="url(#k17)">-12</text>
<text transform="translate(1675.65 669.8)" font-size="41.8">Distance from surface (Å)</text>
<text transform="translate(1539.3 525.52) rotate(-90)" font-size="41.42">Free energy (kcal/mol)</text>
<text transform="translate(1490.64 85.4) scale(0.9 1)" font-size="51.7" font-weight="bold">C</text>
</g>
</svg>
</body>
</html>
